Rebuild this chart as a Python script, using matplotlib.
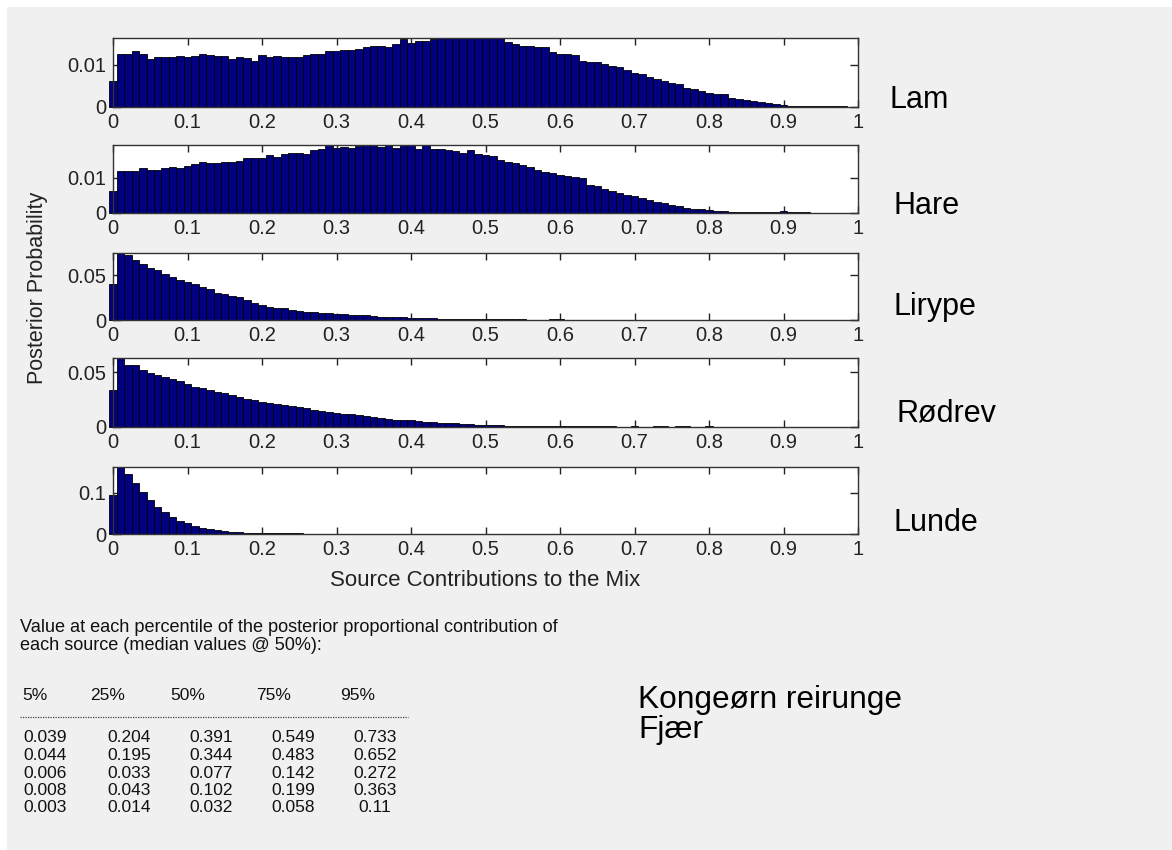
import numpy as np
import matplotlib.pyplot as plt
from matplotlib.patches import Rectangle
from matplotlib.lines import Line2D

plt.rcParams['font.family'] = ['Liberation Sans', 'DejaVu Sans']

W, H = 1172, 850

# histogram bins, centred on 0, 0.01, ..., 0.99
bin_centres = np.arange(100) * 0.01

lam = [0.0062, 0.0126, 0.0126, 0.0134, 0.0127, 0.0114, 0.0118, 0.0118, 0.0118, 0.0121,
       0.0118, 0.0122, 0.0126, 0.0124, 0.0122, 0.0122, 0.0114, 0.0120, 0.0116, 0.0110,
       0.0124, 0.0120, 0.0122, 0.0120, 0.0120, 0.0120, 0.0124, 0.0126, 0.0127, 0.0134,
       0.0132, 0.0135, 0.0135, 0.0138, 0.0142, 0.0146, 0.0144, 0.0142, 0.0150, 0.0162,
       0.0151, 0.0158, 0.0158, 0.0162, 0.0164, 0.0164, 0.0164, 0.0164, 0.0164, 0.0164,
       0.0164, 0.0164, 0.0164, 0.0154, 0.0150, 0.0146, 0.0146, 0.0142, 0.0143, 0.0130,
       0.0127, 0.0126, 0.0124, 0.0110, 0.0108, 0.0106, 0.0102, 0.0098, 0.0094, 0.0088,
       0.0082, 0.0078, 0.0072, 0.0066, 0.0062, 0.0058, 0.0054, 0.0046, 0.0042, 0.0038,
       0.0034, 0.0032, 0.0030, 0.0022, 0.0018, 0.0016, 0.0014, 0.0012, 0.0010, 0.0008,
       0.0004, 0.0003, 0.0003, 0.0003, 0.0003, 0.0003, 0.0003, 0.0003, 0.0003, 0.0]

hare = [0.0062, 0.0119, 0.0119, 0.0119, 0.0126, 0.0121, 0.0121, 0.0126, 0.0130, 0.0126,
        0.0133, 0.0137, 0.0145, 0.0142, 0.0142, 0.0145, 0.0145, 0.0147, 0.0154, 0.0156,
        0.0156, 0.0164, 0.0159, 0.0166, 0.0170, 0.0170, 0.0168, 0.0177, 0.0180, 0.0192,
        0.0184, 0.0186, 0.0184, 0.0189, 0.0192, 0.0192, 0.0186, 0.0192, 0.0184, 0.0192,
        0.0192, 0.0180, 0.0192, 0.0180, 0.0180, 0.0177, 0.0175, 0.0170, 0.0177, 0.0168,
        0.0165, 0.0160, 0.0150, 0.0145, 0.0140, 0.0136, 0.0130, 0.0122, 0.0117, 0.0112,
        0.0107, 0.0104, 0.0102, 0.0100, 0.0080, 0.0075, 0.0068, 0.0061, 0.0057, 0.0052,
        0.0047, 0.0042, 0.0037, 0.0032, 0.0027, 0.0022, 0.0019, 0.0015, 0.0012, 0.0010,
        0.0008, 0.0005, 0.0005, 0.0004, 0.0004, 0.0004, 0.0003, 0.0003, 0.0003, 0.0003,
        0.0006, 0.0003, 0.0003, 0.0003, 0.0, 0.0, 0.0, 0.0, 0.0, 0.0]

lirype = [0.0408, 0.0750, 0.0724, 0.0676, 0.0624, 0.0587, 0.0564, 0.0520, 0.0483, 0.0446,
          0.0427, 0.0408, 0.0371, 0.0342, 0.0304, 0.0290, 0.0267, 0.0252, 0.0223, 0.0193,
          0.0167, 0.0149, 0.0137, 0.0130, 0.0111, 0.0100, 0.0093, 0.0085, 0.0082, 0.0074,
          0.0067, 0.0063, 0.0060, 0.0056, 0.0052, 0.0050, 0.0035, 0.0030, 0.0030, 0.0028,
          0.0025, 0.0022, 0.0020, 0.0018, 0.0016, 0.0015, 0.0013, 0.0012, 0.0010, 0.0010,
          0.0009, 0.0008, 0.0008, 0.0007, 0.0006, 0.0006, 0.0005, 0.0, 0.0, 0.0007,
          0.0007, 0.0, 0.0, 0.0, 0.0, 0.0, 0.0, 0.0, 0.0, 0.0,
          0.0, 0.0, 0.0, 0.0, 0.0, 0.0, 0.0, 0.0, 0.0, 0.0,
          0.0, 0.0, 0.0, 0.0, 0.0, 0.0, 0.0, 0.0, 0.0, 0.0,
          0.0, 0.0, 0.0, 0.0, 0.0, 0.0, 0.0, 0.0, 0.0, 0.0]

rodrev = [0.0338, 0.0630, 0.0567, 0.0567, 0.0523, 0.0491, 0.0476, 0.0454, 0.0435, 0.0416,
          0.0390, 0.0369, 0.0353, 0.0338, 0.0321, 0.0309, 0.0290, 0.0277, 0.0258, 0.0246,
          0.0231, 0.0221, 0.0208, 0.0200, 0.0189, 0.0183, 0.0170, 0.0158, 0.0147, 0.0139,
          0.0129, 0.0123, 0.0117, 0.0107, 0.0101, 0.0092, 0.0082, 0.0076, 0.0067, 0.0062,
          0.0062, 0.0055, 0.0048, 0.0045, 0.0040, 0.0035, 0.0032, 0.0030, 0.0028, 0.0022,
          0.0018, 0.0015, 0.0014, 0.0013, 0.0012, 0.0011, 0.0010, 0.0010, 0.0009, 0.0009,
          0.0008, 0.0008, 0.0007, 0.0007, 0.0006, 0.0006, 0.0005, 0.0005, 0.0, 0.0,
          0.0008, 0.0, 0.0, 0.0005, 0.0005, 0.0, 0.0005, 0.0005, 0.0, 0.0,
          0.0008, 0.0, 0.0, 0.0, 0.0, 0.0, 0.0, 0.0, 0.0, 0.0,
          0.0, 0.0, 0.0, 0.0, 0.0, 0.0, 0.0, 0.0, 0.0, 0.0]

lunde = [0.094, 0.162, 0.146, 0.123, 0.102, 0.083, 0.066, 0.054, 0.042, 0.032,
         0.026, 0.019, 0.0146, 0.012, 0.0087, 0.0065, 0.0050, 0.0040, 0.0035, 0.0030,
         0.0028, 0.0025, 0.0020, 0.0018, 0.0015, 0.0013, 0.0012, 0.0010, 0.0008, 0.0,
         0.0, 0.0, 0.0, 0.0, 0.0, 0.0, 0.0, 0.0, 0.0, 0.0,
         0.0, 0.0, 0.0, 0.0, 0.0, 0.0, 0.0, 0.0, 0.0, 0.0,
         0.0, 0.0, 0.0, 0.0, 0.0, 0.0, 0.0, 0.0, 0.0, 0.0,
         0.0, 0.0, 0.0, 0.0, 0.0, 0.0, 0.0, 0.0, 0.0, 0.0,
         0.0, 0.0, 0.0, 0.0, 0.0, 0.0, 0.0, 0.0, 0.0, 0.0,
         0.0, 0.0, 0.0, 0.0, 0.0, 0.0, 0.0, 0.0, 0.0, 0.0,
         0.0, 0.0, 0.0, 0.0, 0.0, 0.0, 0.0, 0.0, 0.0, 0.0]

sources = ['Lam', 'Hare', 'Lirype', 'Rødrev', 'Lunde']
posteriors = [lam, hare, lirype, rodrev, lunde]
ytick_steps = [0.01, 0.01, 0.05, 0.05, 0.1]
xtick_values = [0, 0.1, 0.2, 0.3, 0.4, 0.5, 0.6, 0.7, 0.8, 0.9, 1]
xtick_labels = ['0', '0.1', '0.2', '0.3', '0.4', '0.5', '0.6', '0.7', '0.8', '0.9', '1']

# percentile summary, one row per source
pct_headers = ['5%', '25%', '50%', '75%', '95%']
p05 = [0.039, 0.044, 0.006, 0.008, 0.003]
p25 = [0.204, 0.195, 0.033, 0.043, 0.014]
p50 = [0.391, 0.344, 0.077, 0.102, 0.032]
p75 = [0.549, 0.483, 0.142, 0.199, 0.058]
p95 = [0.733, 0.652, 0.272, 0.363, 0.11]


def fx(px):
    return px / W


def fy(py):
    return 1 - py / H


fig = plt.figure(figsize=(W / 100, H / 100), dpi=100, facecolor='white')
fig.add_artist(Rectangle((fx(7), 0), 1 - fx(7), fy(7), transform=fig.transFigure,
                         facecolor='#f0f0f0', edgecolor='none', zorder=-10))

# panel top/bottom edges in pixels
panel_px = [(38, 107), (145, 213), (253, 320), (358, 427), (467, 534)]
left_px, right_px = 113, 858
label_y = [100, 206, 307, 414, 523]
label_x = [889, 893, 894, 896, 893]

for k, (vals, name) in enumerate(zip(posteriors, sources)):
    top, bot = panel_px[k]
    ax = fig.add_axes([fx(left_px), fy(bot), fx(right_px) - fx(left_px), (bot - top) / H])
    ax.bar(bin_centres, vals, width=0.01, color='#000080', edgecolor='black',
           linewidth=0.6, clip_on=False, zorder=2)
    ax.set_xlim(0, 1)
    ax.set_ylim(0, max(vals))
    ax.set_xticks(xtick_values)
    ax.set_xticklabels(xtick_labels)
    ax.set_yticks([0, ytick_steps[k]])
    ax.set_yticklabels(['0', f'{ytick_steps[k]:g}'])
    ax.tick_params(axis='x', direction='in', top=True, length=5, width=1,
                   labelsize=14.5, pad=4, colors='#222222')
    ax.tick_params(axis='y', direction='in', right=True, length=6, width=1,
                   labelsize=14.5, pad=5, colors='#222222')
    for s in ax.spines.values():
        s.set_color('#333333')
        s.set_linewidth(1.0)
        s.set_zorder(3)
    ax.set_facecolor('white')
    fig.text(fx(label_x[k]), fy(label_y[k]), name, fontsize=22, va='center',
             ha='left', color='black')

fig.text(fx(38), fy(288), 'Posterior Probability', rotation=90, fontsize=15.5,
         ha='center', va='center', color='#222222')
fig.text(fx(485), fy(580), 'Source Contributions to the Mix', fontsize=16,
         ha='center', va='center', color='#222222')

# percentile table
table_fs = 12.5
fig.text(fx(20), fy(628), 'Value at each percentile of the posterior proportional contribution of',
         fontsize=13.1, ha='left', va='center', color='#111111')
fig.text(fx(20), fy(646), 'each source (median values @ 50%):',
         fontsize=13.1, ha='left', va='center', color='#111111')

header_x = [22, 90, 170, 256, 340]
for hx, h in zip(header_x, pct_headers):
    fig.text(fx(hx), fy(695), h, fontsize=table_fs, ha='left', va='center', color='#111111')

fig.add_artist(Line2D([fx(20), fx(408)], [fy(717), fy(717)], transform=fig.transFigure,
                      color='#444444', linewidth=0.9, linestyle=(0, (1, 1))))

col_centres = [45, 129, 211, 293, 375]
row_y = [737, 755, 773, 790.5, 808]
for cx, col in zip(col_centres, [p05, p25, p50, p75, p95]):
    for ry, v in zip(row_y, col):
        fig.text(fx(cx), fy(ry), f'{v:g}', fontsize=table_fs, ha='center', va='center',
                 color='#111111')

fig.text(fx(638), fy(700), 'Kongeørn reirunge', fontsize=22.8, ha='left', va='center')
fig.text(fx(638), fy(730), 'Fjær', fontsize=22.8, ha='left', va='center')

fig.savefig('out.png', dpi=100, facecolor=fig.get_facecolor())
